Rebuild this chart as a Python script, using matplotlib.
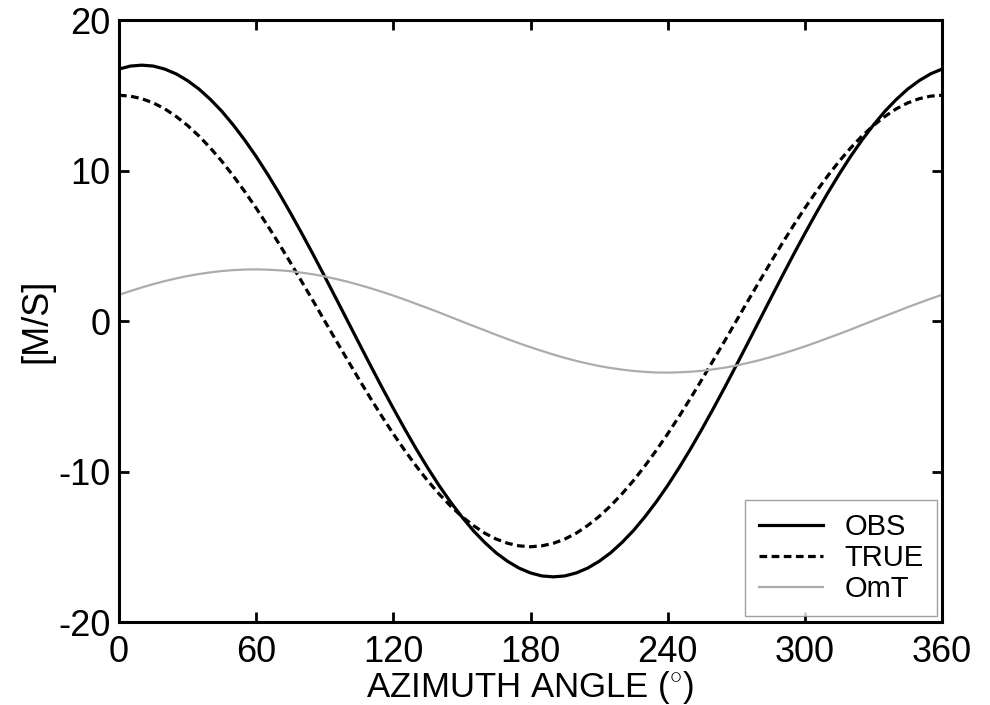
import matplotlib
matplotlib.use("Agg")
import matplotlib.pyplot as plt

plt.rcParams['font.family'] = ['Liberation Sans', 'DejaVu Sans']
plt.rcParams['mathtext.fontset'] = 'custom'
plt.rcParams['mathtext.rm'] = 'Liberation Sans'
plt.rcParams['axes.unicode_minus'] = False

azimuth = list(range(0, 361, 5))
obs = [16.74, 16.94, 17.00, 16.94, 16.74, 16.42, 15.97, 15.41, 14.72, 13.93, 13.02, 12.02,
       10.93, 9.75, 8.50, 7.18, 5.81, 4.40, 2.95, 1.48, 0.00, -1.48, -2.95, -4.40, -5.81,
       -7.18, -8.50, -9.75, -10.93, -12.02, -13.02, -13.93, -14.72, -15.41, -15.97, -16.42,
       -16.74, -16.94, -17.00, -16.94, -16.74, -16.42, -15.97, -15.41, -14.72, -13.93, -13.02,
       -12.02, -10.93, -9.75, -8.50, -7.18, -5.81, -4.40, -2.95, -1.48, 0.00, 1.48, 2.95, 4.40,
       5.81, 7.18, 8.50, 9.75, 10.93, 12.02, 13.02, 13.93, 14.72, 15.41, 15.97, 16.42, 16.74]
true = [15.00, 14.94, 14.77, 14.49, 14.10, 13.59, 12.99, 12.29, 11.49, 10.61, 9.64, 8.60,
        7.50, 6.34, 5.13, 3.88, 2.60, 1.31, 0.00, -1.31, -2.60, -3.88, -5.13, -6.34, -7.50,
        -8.60, -9.64, -10.61, -11.49, -12.29, -12.99, -13.59, -14.10, -14.49, -14.77, -14.94,
        -15.00, -14.94, -14.77, -14.49, -14.10, -13.59, -12.99, -12.29, -11.49, -10.61, -9.64,
        -8.60, -7.50, -6.34, -5.13, -3.88, -2.60, -1.31, 0.00, 1.31, 2.60, 3.88, 5.13, 6.34,
        7.50, 8.60, 9.64, 10.61, 11.49, 12.29, 12.99, 13.59, 14.10, 14.49, 14.77, 14.94, 15.00]
omt = [1.74, 1.99, 2.23, 2.45, 2.65, 2.83, 2.99, 3.12, 3.23, 3.32, 3.38, 3.42, 3.43, 3.41,
       3.37, 3.31, 3.21, 3.10, 2.96, 2.79, 2.61, 2.40, 2.18, 1.94, 1.69, 1.42, 1.14, 0.86,
       0.57, 0.27, -0.03, -0.33, -0.62, -0.92, -1.20, -1.48, -1.74, -1.99, -2.23, -2.45, -2.65,
       -2.83, -2.99, -3.12, -3.23, -3.32, -3.38, -3.42, -3.43, -3.41, -3.37, -3.31, -3.21,
       -3.10, -2.96, -2.79, -2.61, -2.40, -2.18, -1.94, -1.69, -1.42, -1.14, -0.86, -0.57,
       -0.27, 0.03, 0.33, 0.62, 0.92, 1.20, 1.48, 1.74]
labels = ['OBS', 'TRUE', 'OmT']
xticks = [0, 60, 120, 180, 240, 300, 360]
yticks = [-20, -10, 0, 10, 20]

fig = plt.figure(figsize=(9.9, 7.05), dpi=100)
ax = fig.add_axes([119/990, 1 - 622/705, (942 - 119)/990, (622 - 20)/705])

ax.plot(azimuth, obs, color='black', lw=2.3, label=labels[0])
ax.plot(azimuth, true, color='black', lw=2.3, linestyle=(0, (2.4, 1.4)), label=labels[1])
ax.plot(azimuth, omt, color='#a9aeab', lw=1.6, label=labels[2])

ax.set_xlim(0, 360)
ax.set_ylim(-20, 20)
ax.set_xticks(xticks)
ax.set_yticks(yticks)
ax.tick_params(axis='both', which='major', direction='in', length=7, width=2,
               labelsize=26, top=True, right=True)
ax.tick_params(axis='x', pad=9)
ax.tick_params(axis='y', pad=6)
for s in ax.spines.values():
    s.set_linewidth(2.2)

ax.set_xlabel(r'AZIMUTH ANGLE ($^{\circ}$)', fontsize=25, labelpad=0)
ax.set_ylabel('[M/S]', fontsize=26, labelpad=3)

leg = ax.legend(loc='lower right', bbox_to_anchor=(937/990, 1 - 616/705),
                bbox_transform=fig.transFigure, fontsize=21, frameon=True, fancybox=False,
                handlelength=2.2, handletextpad=0.75, labelspacing=0.1,
                borderpad=0.45, borderaxespad=0)
leg.get_frame().set_edgecolor('#888888')
leg.get_frame().set_linewidth(1.0)

fig.savefig('out.png', dpi=100)
